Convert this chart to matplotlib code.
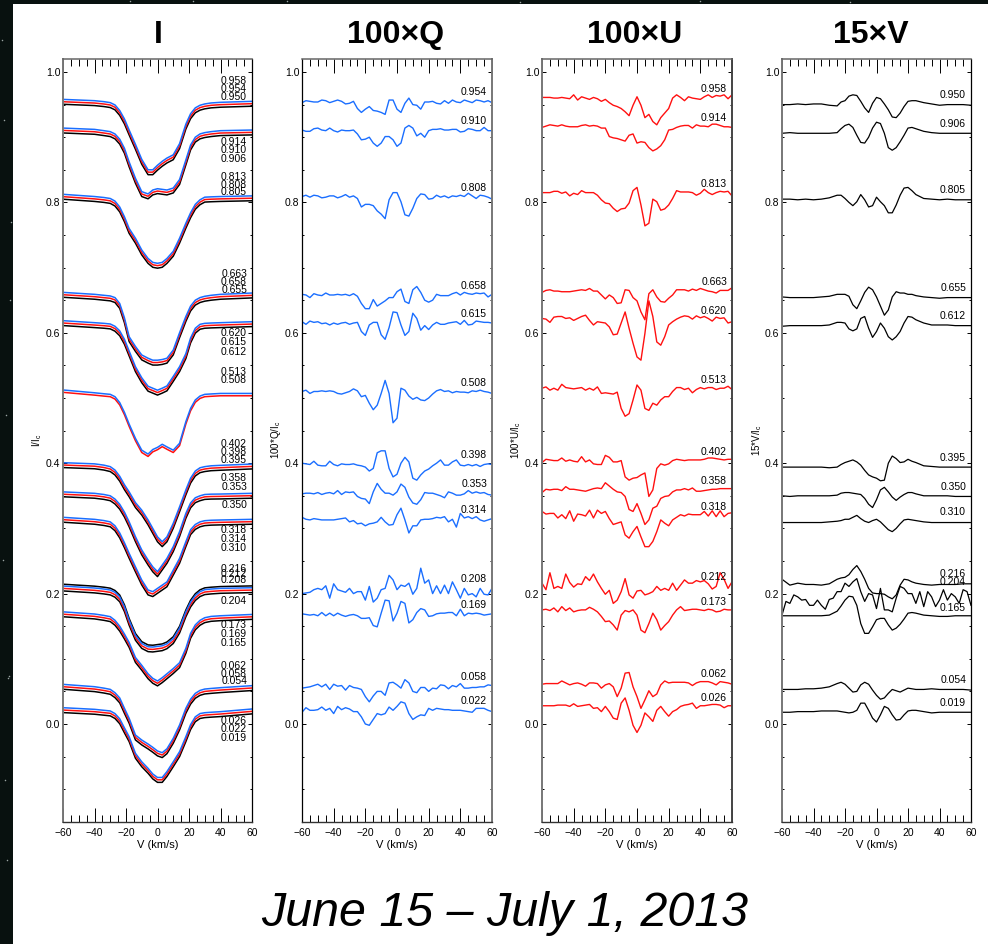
import matplotlib
matplotlib.use('Agg')
import matplotlib.pyplot as plt
from matplotlib.patches import Rectangle
from matplotlib.ticker import MultipleLocator, FormatStrFormatter

plt.rcParams['font.family'] = ['Liberation Sans', 'DejaVu Sans']
plt.rcParams['mathtext.default'] = 'regular'

W, H = 988, 944
BLUE = '#1a6eff'
RED = '#ff1010'

# velocity grids (km/s)
V_I = [-60, -40, -34, -30, -27, -24, -21, -18, -14, -10, -6, -3, 0, 3, 6, 10, 14, 18, 21, 24, 27, 30, 34, 40, 60]
V_S = [-60, -55, -50, -45, -40, -35, -30,
       -25, -22.5, -20, -17.5, -15, -12.5, -10, -7.5, -5, -2.5, 0, 2.5, 5, 7.5, 10, 12.5, 15, 17.5, 20, 22.5, 25,
       30, 35, 40, 45, 50, 55, 60]
V_FINE = [-60, -57.5, -55, -52.5, -50, -47.5, -45, -42.5, -40, -37.5, -35, -32.5, -30, -27.5, -25, -22.5, -20,
          -17.5, -15, -12.5, -10, -7.5, -5, -2.5, 0, 2.5, 5, 7.5, 10, 12.5, 15, 17.5, 20, 22.5, 25, 27.5, 30,
          32.5, 35, 37.5, 40, 42.5, 45, 47.5, 50, 52.5, 55, 57.5, 60]

# Stokes I, upper (blue) curve of every group
I_958 = [.958, .956, .9545, .953, .9495, .941, .928, .911, .889, .866, .850, .850, .857, .863, .868, .873, .890, .920, .936, .945, .949, .951, .9525, .9535, .955]
I_914 = [.914, .912, .910, .9085, .905, .897, .883, .862, .837, .8165, .813, .819, .821, .820, .819, .822, .835, .865, .888, .900, .905, .907, .9085, .910, .911]
I_813 = [.8124, .809, .8075, .806, .802, .793, .778, .760, .745, .727, .714, .708, .7066, .708, .714, .725, .745, .768, .784, .797, .804, .808, .8085, .809, .810]
I_663 = [.662, .659, .6575, .6565, .654, .645, .623, .594, .579, .566, .561, .558, .558, .559, .561, .5736, .600, .625, .641, .650, .654, .656, .6575, .659, .661]
I_620 = [.6186, .6155, .6145, .6135, .610, .603, .590, .572, .548, .531, .518, .515, .512, .515, .5185, .533, .548, .568, .592, .607, .613, .6145, .615, .6155, .617]
I_513 = [.5123, .508, .5065, .5056, .502, .493, .478, .460, .4381, .420, .414, .421, .4243, .429, .425, .420, .4305, .4637, .484, .497, .503, .5056, .5062, .507, .507]
I_402 = [.4008, .399, .397, .3947, .3895, .380, .367, .356, .3395, .328, .313, .300, .287, .2796, .287, .3078, .333, .359, .377, .388, .393, .3947, .396, .3967, .3987]
I_358 = [.356, .3538, .352, .350, .345, .337, .325, .310, .2873, .267, .2515, .241, .2336, .2438, .254, .272, .295, .323, .339, .347, .350, .352, .3525, .3527, .3538]
I_318 = [.317, .3139, .312, .310, .304, .293, .278, .2617, .241, .2208, .2055, .203, .208, .213, .218, .236, .254, .2796, .298, .306, .310, .3118, .3125, .3129, .3139]
I_208 = [.2116, .2086, .207, .2055, .202, .195, .180, .159, .136, .1235, .1185, .118, .119, .120, .123, .131, .147, .172, .187, .197, .203, .206, .207, .208, .209]
I_173 = [.172, .1687, .1665, .1646, .159, .150, .138, .125, .102, .090, .077, .070, .066, .071, .077, .085, .094, .116, .139, .152, .159, .163, .165, .166, .168]
I_062 = [.0608, .0572, .055, .0531, .048, .040, .024, .0087, -.0169, -.0246, -.0307, -.0358, -.0414, -.044, -.038, -.022, -.0016, .024, .038, .047, .0515, .0536, .0545, .0557, .0588]
I_026 = [.025, .0225, .021, .020, .016, .008, -.006, -.0195, -.045, -.058, -.068, -.0767, -.082, -.082, -.073, -.058, -.0425, -.0195, -.001, .011, .016, .0173, .018, .0189, .023]
I_GROUPS = [I_958, I_914, I_813, I_663, I_620, I_513, I_402, I_358, I_318, I_208, I_173, I_062, I_026]

# offset of the red and black curves under the blue one
RED_OFFSET = -0.0036
BLACK_OFFSET = -0.0075
TOP_BLACK_OFFSET = 0.0028

# Q
Q_954 = [.953, .956, .955, .954, .954, .957, .956, .953, .955, .957, .955, .951, .952, .955,
         .944, .938, .943, .947, .941, .940, .938, .935, .957, .957, .943, .938, .952, .960, .950, .949, .943, .954, .954, .955, .952,
         .951, .956, .952, .957, .954, .953, .957, .955, .953, .957, .956, .954, .956, .953]
Q_910 = [.911, .909, .909, .913, .914, .911, .910, .914, .910, .908, .911, .910, .910, .911,
         .905, .896, .897, .900, .891, .886, .891, .901, .901, .896, .886, .891, .914, .918, .914, .902, .906, .900, .910, .912, .912,
         .913, .911, .911, .912, .912, .908, .909, .913, .912, .910, .910, .915, .910, .910]
Q_808 = [.809, .811, .808, .811, .810, .807, .808, .810, .810, .807, .809, .812, .808, .810,
         .806, .793, .797, .797, .795, .787, .782, .775, .804, .815, .815, .801, .781, .779, .791, .806, .813, .812, .805, .806, .811,
         .808, .810, .807, .810, .809, .811, .809, .814, .810, .806, .811, .810, .808, .805]
Q_658 = [.659, .658, .654, .660, .658, .657, .661, .658, .658, .659, .658, .659, .657, .660,
         .656, .645, .637, .637, .651, .641, .645, .649, .654, .654, .663, .667, .648, .645, .666, .671, .662, .650, .647, .650, .659,
         .657, .657, .657, .660, .662, .658, .662, .660, .659, .661, .660, .661, .655, .659]
Q_615 = [.617, .613, .618, .616, .617, .614, .615, .612, .615, .613, .615, .616, .613, .615,
         .616, .602, .596, .612, .616, .616, .597, .590, .608, .632, .631, .612, .596, .602, .630, .622, .604, .611, .605, .612, .616,
         .613, .613, .615, .616, .617, .613, .619, .612, .613, .618, .617, .616, .616, .615]
Q_508 = [.510, .512, .507, .510, .510, .511, .510, .511, .510, .507, .506, .508, .510, .514,
         .511, .502, .504, .492, .482, .489, .507, .527, .507, .462, .469, .515, .512, .503, .498, .501, .497, .496, .500, .506, .511,
         .513, .510, .511, .508, .510, .509, .509, .508, .511, .510, .512, .510, .509, .507]
Q_398 = [.400, .399, .398, .403, .397, .396, .396, .403, .398, .396, .399, .398, .398, .399,
         .397, .396, .394, .388, .392, .416, .419, .419, .392, .379, .383, .400, .409, .402, .377, .374, .382, .388, .391, .396, .400,
         .405, .397, .397, .402, .405, .397, .396, .398, .396, .398, .395, .398, .399, .398]
Q_353 = [.353, .354, .354, .353, .355, .352, .354, .355, .353, .358, .352, .356, .355, .356,
         .349, .346, .345, .338, .356, .369, .360, .354, .354, .351, .356, .368, .363, .348, .339, .337, .344, .355, .354, .354, .352,
         .350, .347, .356, .354, .351, .351, .353, .358, .354, .356, .354, .355, .352, .351]
Q_314 = [.317, .314, .313, .315, .314, .313, .313, .313, .313, .314, .315, .316, .310, .312,
         .307, .308, .304, .307, .308, .310, .317, .310, .305, .306, .321, .331, .313, .293, .304, .304, .313, .314, .314, .315, .317,
         .316, .318, .310, .314, .302, .323, .316, .318, .315, .318, .313, .311, .313, .315]
Q_208 = [.200, .201, .202, .206, .208, .206, .212, .193, .215, .206, .204, .202, .208, .200,
         .203, .203, .190, .211, .187, .193, .206, .208, .228, .221, .206, .213, .211, .216, .199, .208, .239, .216, .221, .200, .212,
         .200, .213, .200, .218, .206, .193, .208, .198, .200, .195, .208, .199, .198, .208]
Q_169 = [.169, .168, .167, .168, .166, .171, .166, .170, .166, .170, .167, .165, .167, .168,
         .166, .162, .162, .163, .151, .149, .170, .190, .189, .158, .170, .188, .185, .155, .160, .171, .177, .175, .165, .166, .169,
         .170, .170, .171, .171, .166, .176, .166, .170, .169, .170, .169, .167, .168, .169]
Q_058 = [.055, .056, .057, .059, .061, .057, .061, .053, .061, .058, .059, .052, .059, .056,
         .055, .053, .042, .034, .043, .050, .050, .044, .063, .064, .060, .055, .068, .063, .050, .048, .056, .056, .050, .055, .054,
         .060, .059, .054, .059, .057, .062, .055, .055, .056, .056, .057, .057, .060, .059]
Q_022 = [.018, .025, .021, .021, .022, .026, .021, .024, .016, .027, .022, .025, .023, .019,
         .019, .011, .000, -.002, .007, .016, .014, .016, .026, .021, .027, .034, .032, .016, .007, .011, .014, .013, .024, .021, .024,
         .023, .022, .022, .021, .021, .021, .020, .019, .018, .024, .024, .024, .021, .019]
Q_CURVES = [Q_954, Q_910, Q_808, Q_658, Q_615, Q_508, Q_398, Q_353, Q_314, Q_208, Q_169, Q_058, Q_022]

# U
U_958 = [.961, .961, .961, .960, .960, .961, .960, .959, .965, .957, .962, .960, .958, .961,
         .959, .955, .958, .953, .949, .947, .944, .939, .933, .949, .962, .949, .930, .935, .924, .919, .930, .937, .944, .960, .965,
         .961, .956, .962, .960, .959, .958, .962, .965, .961, .964, .963, .965, .959, .965]
U_914 = [.915, .917, .919, .918, .917, .919, .917, .916, .916, .916, .918, .919, .917, .918,
         .917, .914, .914, .901, .899, .898, .896, .894, .903, .905, .891, .893, .892, .884, .879, .882, .887, .896, .911, .912, .915,
         .917, .918, .918, .914, .919, .917, .917, .916, .920, .920, .918, .916, .916, .915]
U_813 = [.815, .815, .815, .817, .817, .814, .816, .810, .814, .812, .818, .815, .815, .815,
         .811, .804, .799, .798, .791, .786, .790, .791, .799, .818, .823, .796, .764, .768, .805, .801, .788, .790, .796, .806, .818,
         .816, .816, .816, .815, .811, .814, .820, .815, .812, .815, .817, .816, .817, .810]
U_663 = [.662, .665, .666, .664, .664, .663, .663, .663, .664, .665, .666, .665, .668, .664,
         .664, .658, .652, .658, .654, .645, .646, .666, .665, .654, .649, .632, .620, .660, .666, .655, .648, .647, .653, .658, .666,
         .666, .666, .664, .667, .665, .668, .666, .664, .663, .661, .665, .665, .665, .669]
U_620 = [.622, .621, .616, .624, .625, .625, .622, .623, .619, .622, .625, .627, .619, .612,
         .617, .616, .615, .609, .597, .598, .615, .632, .607, .584, .563, .558, .599, .649, .625, .586, .581, .594, .612, .617, .621,
         .624, .626, .625, .621, .626, .623, .625, .622, .618, .624, .622, .623, .615, .617]
U_513 = [.515, .517, .512, .515, .512, .521, .516, .515, .514, .515, .516, .512, .515, .512,
         .517, .507, .508, .507, .506, .509, .484, .472, .476, .497, .520, .512, .484, .481, .492, .489, .497, .502, .502, .510, .516,
         .516, .513, .515, .508, .513, .516, .514, .516, .516, .513, .515, .515, .518, .513]
U_402 = [.401, .406, .405, .404, .404, .408, .403, .405, .403, .402, .410, .402, .405, .399,
         .398, .398, .412, .409, .402, .402, .404, .379, .374, .377, .378, .382, .385, .349, .359, .392, .399, .397, .399, .404, .406,
         .405, .404, .405, .405, .405, .405, .406, .408, .408, .407, .406, .405, .406, .406]
U_358 = [.355, .360, .359, .360, .360, .358, .364, .360, .360, .359, .358, .357, .359, .361,
         .362, .361, .370, .365, .360, .356, .355, .349, .329, .326, .338, .323, .306, .313, .331, .334, .346, .349, .350, .356, .359,
         .359, .361, .359, .362, .357, .357, .358, .359, .360, .360, .361, .361, .361, .361]
U_318 = [.326, .322, .323, .323, .316, .321, .315, .327, .311, .322, .321, .319, .328, .316,
         .328, .323, .326, .315, .306, .308, .310, .290, .285, .295, .303, .287, .272, .272, .280, .295, .313, .308, .304, .313, .317,
         .321, .319, .322, .321, .321, .321, .326, .319, .327, .318, .327, .318, .323, .324]
U_212 = [.216, .206, .232, .208, .211, .208, .230, .217, .210, .215, .214, .226, .220, .230,
         .218, .208, .199, .205, .185, .190, .203, .223, .198, .193, .204, .205, .198, .200, .203, .211, .205, .208, .205, .216, .205,
         .213, .221, .216, .216, .220, .218, .220, .215, .207, .211, .232, .222, .208, .218]
U_173 = [.175, .176, .174, .178, .172, .180, .174, .178, .172, .174, .175, .175, .179, .176,
         .172, .165, .157, .158, .152, .144, .167, .174, .172, .175, .167, .144, .140, .154, .170, .160, .144, .151, .157, .167, .175,
         .180, .174, .175, .176, .176, .175, .174, .176, .175, .172, .173, .176, .175, .175]
U_062 = [.061, .062, .062, .062, .062, .066, .063, .060, .062, .063, .061, .058, .063, .063,
         .062, .055, .060, .062, .057, .042, .055, .078, .079, .057, .042, .024, .037, .051, .042, .046, .060, .066, .063, .064, .064,
         .064, .064, .063, .059, .063, .065, .065, .065, .063, .060, .065, .064, .063, .061]
U_026 = [.028, .028, .028, .028, .029, .029, .029, .027, .031, .027, .028, .029, .030, .024,
         .025, .019, .027, .019, .009, .007, .032, .040, .021, -.002, -.013, -.002, .017, .011, .004, .021, .027, .019, .012, .019, .022,
         .027, .029, .030, .032, .024, .028, .028, .029, .030, .030, .029, .025, .028, .028]
U_CURVES = [U_958, U_914, U_813, U_663, U_620, U_513, U_402, U_358, U_318, U_212, U_173, U_062, U_026]

# V
V_950 = [.950, .950, .951, .950, .951, .951, .949, .948, .954, .956, .963, .965, .964, .955, .945, .938, .952, .961, .959, .951, .942, .931, .930, .937, .947, .955, .956, .956, .953, .951, .949, .950, .950, .950, .949]
V_906 = [.906, .907, .906, .906, .906, .906, .906, .907, .913, .918, .920, .915, .903, .892, .891, .900, .914, .923, .921, .906, .884, .880, .884, .893, .903, .914, .915, .913, .909, .907, .906, .906, .906, .906, .906]
V_805 = [.805, .805, .804, .805, .804, .805, .807, .811, .811, .806, .800, .795, .801, .812, .804, .793, .795, .808, .801, .795, .784, .784, .796, .811, .822, .823, .818, .812, .806, .805, .804, .805, .804, .804, .804]
V_655 = [.655, .654, .654, .654, .654, .655, .656, .659, .659, .659, .656, .643, .637, .649, .662, .670, .666, .655, .641, .627, .635, .655, .663, .661, .661, .659, .659, .657, .655, .654, .653, .654, .654, .654, .654]
V_612 = [.610, .611, .611, .611, .611, .611, .612, .616, .616, .615, .606, .603, .606, .622, .625, .607, .593, .602, .615, .607, .594, .589, .594, .602, .615, .625, .624, .620, .615, .612, .612, .612, .611, .611, .611]
V_395 = [.394, .394, .394, .394, .394, .394, .393, .394, .398, .401, .403, .405, .402, .397, .389, .382, .379, .377, .373, .374, .400, .411, .407, .401, .402, .406, .403, .401, .396, .395, .394, .394, .394, .394, .394]
V_350 = [.350, .349, .350, .350, .350, .350, .350, .351, .354, .355, .355, .354, .353, .352, .346, .337, .332, .344, .359, .363, .356, .348, .343, .348, .352, .355, .355, .353, .350, .350, .350, .350, .349, .349, .349]
V_310 = [.309, .309, .309, .309, .309, .309, .310, .311, .312, .314, .314, .317, .320, .315, .311, .309, .312, .314, .310, .304, .298, .295, .300, .307, .313, .314, .313, .312, .310, .309, .309, .309, .309, .309, .309]
V_216 = [.222, .213, .216, .214, .214, .213, .215, .222, .224, .225, .229, .237, .243, .234, .222, .208, .201, .200, .200, .199, .195, .192, .198, .213, .222, .221, .218, .216, .214, .213, .214, .214, .214, .215, .215]
V_204 = [.167, .188, .185, .198, .195, .190, .191, .182, .182, .190, .182, .176, .191, .193, .203, .203, .216, .211, .218, .223, .203, .188, .200, .198, .177, .208, .175, .175, .172, .193, .211, .208, .200, .200, .185, .203, .180, .203, .195, .180, .190, .206, .190, .200, .195, .185, .206, .203, .182]
V_165 = [.166, .166, .166, .166, .166, .166, .167, .173, .181, .190, .196, .195, .182, .154, .139, .139, .149, .160, .162, .162, .152, .144, .147, .153, .161, .170, .171, .170, .167, .166, .165, .165, .166, .166, .166]
V_054 = [.053, .053, .053, .054, .054, .055, .057, .062, .064, .061, .055, .049, .050, .060, .064, .061, .052, .044, .038, .040, .047, .053, .051, .049, .052, .055, .054, .053, .053, .054, .053, .053, .053, .053, .052]
V_019 = [.018, .018, .019, .019, .019, .020, .020, .020, .019, .018, .017, .018, .021, .032, .032, .021, .009, .003, .014, .027, .024, .014, .006, .007, .014, .020, .021, .021, .019, .017, .018, .018, .018, .018, .018]
V_CURVES = [V_950, V_906, V_805, V_655, V_612, V_395, V_350, V_310, V_216, V_165, V_054, V_019]

# labels and the pixel row they sit on
I_LABELS = ['0.958', '0.954', '0.950', '0.914', '0.910', '0.906', '0.813', '0.808', '0.805', '0.663', '0.658', '0.655',
            '0.620', '0.615', '0.612', '0.513', '0.508', '0.402', '0.398', '0.395', '0.358', '0.353', '0.350',
            '0.318', '0.314', '0.310', '0.216', '0.212', '0.208', '0.204', '0.173', '0.169', '0.165',
            '0.062', '0.058', '0.054', '0.026', '0.022', '0.019']
I_LABEL_ROWS = [81, 89, 97, 142, 150, 159, 177, 185, 192, 274, 282, 290, 333, 342, 352, 372, 380, 444, 452, 460,
                478, 487, 505, 530, 539, 548, 569, 574, 580, 601, 625, 634, 643, 666, 674, 681, 721, 729, 738]
Q_LABELS = ['0.954', '0.910', '0.808', '0.658', '0.615', '0.508', '0.398', '0.353', '0.314', '0.208', '0.169', '0.058', '0.022']
Q_LABEL_ROWS = [92, 121, 188, 286, 314, 383, 455, 484, 510, 579, 605, 677, 701]
U_LABELS = ['0.958', '0.914', '0.813', '0.663', '0.620', '0.513', '0.402', '0.358', '0.318', '0.212', '0.173', '0.062', '0.026']
U_LABEL_ROWS = [89, 118, 184, 282, 311, 380, 452, 481, 507, 577, 602, 674, 698]
V_LABELS = ['0.950', '0.906', '0.805', '0.655', '0.612', '0.395', '0.350', '0.310', '0.216', '0.204', '0.165', '0.054', '0.019']
V_LABEL_ROWS = [95, 124, 190, 288, 316, 458, 487, 512, 574, 582, 608, 680, 703]

STAR_X = [9, 8, 4, 10, 6, 3, 11, 5, 7, 2, 130, 193, 287, 520, 700, 850]
STAR_Y = [676, 678, 120, 300, 415, 560, 222, 780, 860, 40, 1, 1, 1, 2, 1, 2]

fig = plt.figure(figsize=(W / 100, H / 100), dpi=100, facecolor='#08110f')

# white card over the star field
bg = fig.add_axes([0, 0, 1, 1])
bg.set_xlim(0, W)
bg.set_ylim(H, 0)
bg.axis('off')
bg.scatter(STAR_X, STAR_Y, s=1.2, color='#9aa5a3', linewidths=0)
bg.add_patch(Rectangle((13, 4), W - 13, H - 4, color='white', lw=0))


def make_panel(left, right, title, title_x, ylabel, ylabel_x, left_col, right_col):
    top, bottom = 59, 822
    ax = fig.add_axes([left / W, 1 - bottom / H, (right - left) / W, (bottom - top) / H])
    ax.patch.set_alpha(0)
    ax.set_xlim(-60, 60)
    ax.set_ylim((724 - bottom) / 652, (724 - top) / 652)
    ax.xaxis.set_major_locator(MultipleLocator(20))
    ax.xaxis.set_minor_locator(MultipleLocator(5))
    ax.yaxis.set_major_locator(MultipleLocator(0.2))
    ax.yaxis.set_minor_locator(MultipleLocator(0.05))
    ax.yaxis.set_major_formatter(FormatStrFormatter('%.1f'))
    ax.tick_params(axis='x', which='major', direction='in', top=True, length=10, width=0.7, labelsize=7.5, pad=4)
    ax.tick_params(axis='x', which='minor', direction='in', top=True, length=5, width=0.7)
    ax.tick_params(axis='y', which='major', direction='in', right=True, length=3, width=0.7, labelsize=7.5, pad=2)
    ax.tick_params(axis='y', which='minor', direction='in', right=True, length=1.5, width=0.7)
    ax.set_xlabel('V (km/s)', fontsize=8, labelpad=1.5)
    ax.spines['left'].set(color=left_col, linewidth=1.4 if left_col != 'black' else 0.9)
    ax.spines['right'].set(color=right_col, linewidth=1.4 if right_col != 'black' else 0.9)
    ax.spines['top'].set(color='#666666', linewidth=1.1)
    ax.spines['bottom'].set(color='#333333', linewidth=1.0)
    fig.text(title_x / W, 1 - 35 / H, title, fontsize=23, fontweight='bold', ha='center', va='center')
    fig.text(ylabel_x / W, 1 - 440 / H, ylabel, fontsize=7, rotation=90, ha='center', va='center')
    return ax


def put_labels(ax, labels, rows, right_px):
    for text, row in zip(labels, rows):
        ax.annotate(text, xy=(right_px / W, 1 - row / H), xycoords='figure fraction',
                    fontsize=7.5, ha='right', va='center')


ax_i = make_panel(63, 252, 'I', 158, r'I/I$_c$', 37, '#777777', 'black')
ax_q = make_panel(302, 492, '100×Q', 396, r'100*Q/I$_c$', 276, 'black', '#777777')
ax_u = make_panel(542, 732, '100×U', 635, r'100*U/I$_c$', 516, '#777777', '#444444')
ax_v = make_panel(782, 971, '15×V', 871, r'15*V/I$_c$', 757, '#777777', 'black')

# I panel: black under red under blue
for group in I_GROUPS:
    if group is I_208:
        ax_i.plot(V_I, [y + TOP_BLACK_OFFSET for y in group], color='black', lw=1.1)
    if group is not I_513:
        ax_i.plot(V_I, [y + BLACK_OFFSET for y in group], color='black', lw=1.1)
    ax_i.plot(V_I, [y + RED_OFFSET for y in group], color=RED, lw=1.1)
    ax_i.plot(V_I, group, color=BLUE, lw=1.1)

for curve in Q_CURVES:
    ax_q.plot(V_FINE, curve, color=BLUE, lw=1.0)
for curve in U_CURVES:
    ax_u.plot(V_FINE, curve, color=RED, lw=1.0)
for curve in V_CURVES:
    ax_v.plot(V_S, curve, color='black', lw=0.9)
ax_v.plot(V_FINE, V_204, color='black', lw=0.9)

put_labels(ax_i, I_LABELS, I_LABEL_ROWS, 247)
put_labels(ax_q, Q_LABELS, Q_LABEL_ROWS, 487)
put_labels(ax_u, U_LABELS, U_LABEL_ROWS, 727)
put_labels(ax_v, V_LABELS, V_LABEL_ROWS, 966)

fig.text(505 / W, 1 - 914 / H, 'June 15 – July 1, 2013', fontsize=34.8, style='italic', ha='center', va='center')

fig.savefig('out.png', dpi=100, facecolor=fig.get_facecolor())
